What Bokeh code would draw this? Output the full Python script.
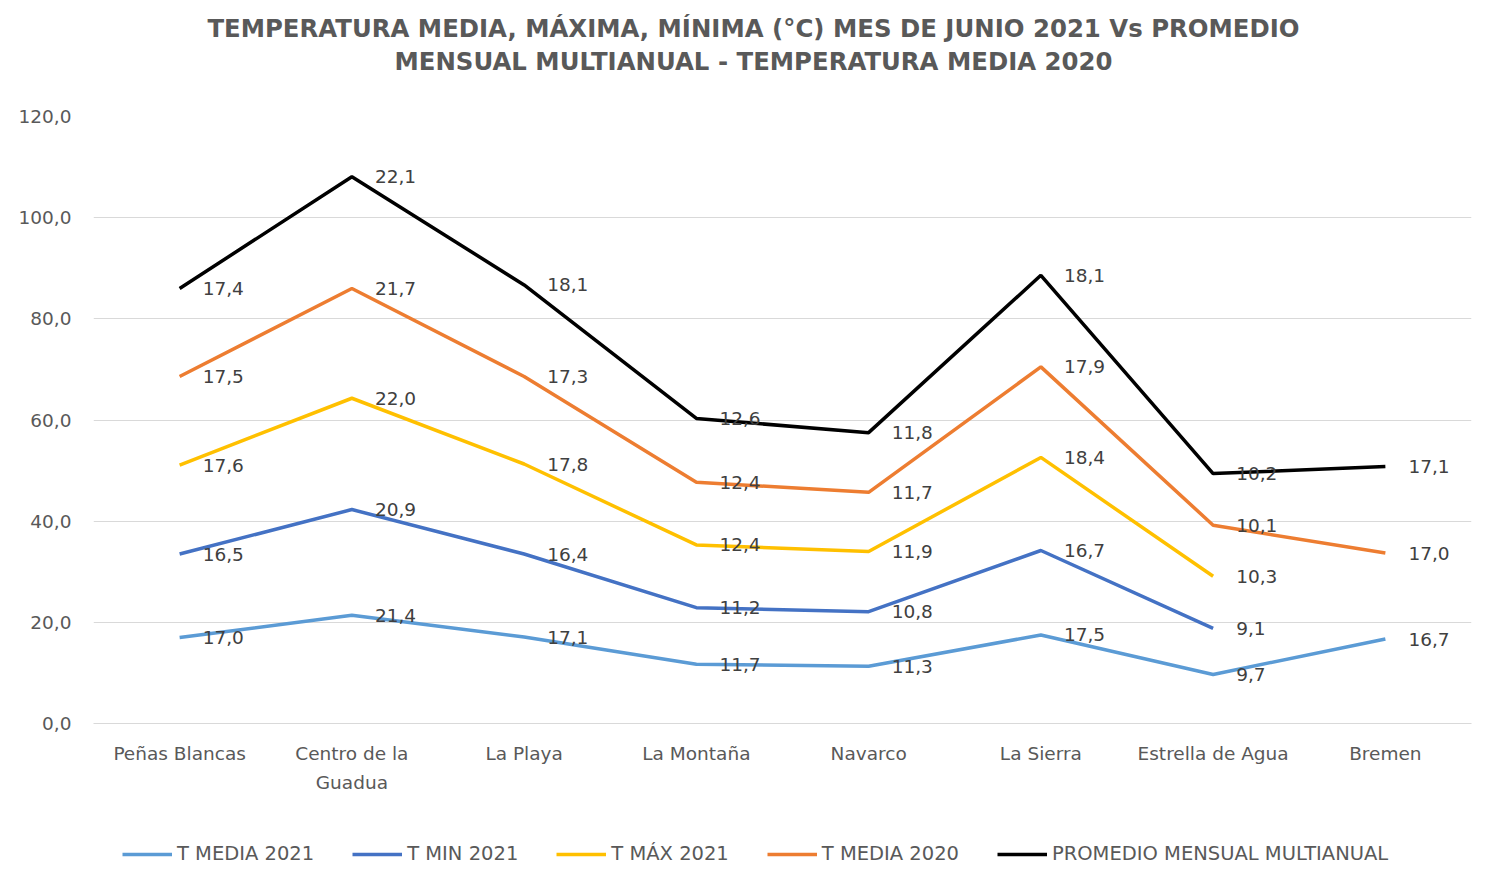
from bokeh.plotting import figure
from bokeh.layouts import column
from bokeh.models import Legend, LegendItem, FixedTicker, Range1d, FactorRange, ColumnDataSource, Div
from bokeh.embed import file_html
from bokeh.resources import INLINE
from bokeh.core.properties import value

stations = ["Peñas Blancas", "Centro de la\nGuadua", "La Playa", "La Montaña", "Navarco",
            "La Sierra", "Estrella de Agua", "Bremen"]
t_media_2021 = [17.0, 21.4, 17.1, 11.7, 11.3, 17.5, 9.7, 16.7]
t_min_2021 = [16.5, 20.9, 16.4, 11.2, 10.8, 16.7, 9.1, None]
t_max_2021 = [17.6, 22.0, 17.8, 12.4, 11.9, 18.4, 10.3, None]
t_media_2020 = [17.5, 21.7, 17.3, 12.4, 11.7, 17.9, 10.1, 17.0]
promedio = [17.4, 22.1, 18.1, 12.6, 11.8, 18.1, 10.2, 17.1]
series_names = ["T MEDIA 2021", "T MIN 2021", "T MÁX 2021", "T MEDIA 2020",
                "PROMEDIO MENSUAL MULTIANUAL"]
series_values = [t_media_2021, t_min_2021, t_max_2021, t_media_2020, promedio]
colors = ["#5B9BD5", "#4472C4", "#FFC000", "#ED7D31", "#000000"]
y_ticks = [0, 20, 40, 60, 80, 100, 120]
title_lines = ["TEMPERATURA MEDIA, MÁXIMA, MÍNIMA (°C) MES DE JUNIO 2021 Vs PROMEDIO",
               "MENSUAL MULTIANUAL - TEMPERATURA MEDIA 2020"]

FONT = "DejaVu Sans"
GRID = "#D9D9D9"
LINE_W = 3.5

title_div = Div(
    text=('<div style="font-family:\'DejaVu Sans\'; font-size:24.4px; font-weight:bold; '
          'color:#595959; line-height:33px; text-align:center; white-space:nowrap; '
          'box-sizing:border-box; width:1472px; padding-left:35px; padding-top:12px;">'
          + "<br>".join(title_lines) + '</div>'),
    width=1472, height=100, margin=(0, 0, 0, 0))

p = figure(width=1472, height=708, output_backend="svg", toolbar_location=None,
           x_range=FactorRange(*stations, range_padding=0), y_range=Range1d(0, 120),
           min_border_left=93, min_border_right=1, min_border_top=16, min_border_bottom=85,
           margin=(0, 0, 0, 0))
p.outline_line_color = None
p.xgrid.grid_line_color = None
p.ygrid.grid_line_color = GRID
p.ygrid.grid_line_width = 1

p.yaxis.ticker = FixedTicker(ticks=y_ticks)
p.yaxis.major_label_overrides = {t: f"{t:.1f}".replace(".", ",") for t in y_ticks}
p.yaxis.axis_line_color = None
p.yaxis.major_tick_line_color = None
p.yaxis.minor_tick_line_color = None
p.yaxis.major_label_standoff = 16
p.yaxis.major_label_text_font = FONT
p.yaxis.major_label_text_font_size = "18.5px"
p.yaxis.major_label_text_color = "#595959"

p.xaxis.axis_line_color = GRID
p.xaxis.major_tick_line_color = None
p.xaxis.minor_tick_line_color = None
p.xaxis.major_label_standoff = 13
p.xaxis.major_label_text_font = FONT
p.xaxis.major_label_text_font_size = "18.5px"
p.xaxis.major_label_text_color = "#595959"
p.xaxis.major_label_text_line_height = 1.4

# legend strip: a small figure below the chart; its frame aligns with the chart's frame
pl = figure(width=1472, height=63, output_backend="svg", toolbar_location=None,
            x_range=FactorRange(*stations, range_padding=0), y_range=Range1d(-2, -1),
            x_axis_location=None, y_axis_location=None,
            min_border_left=93, min_border_right=1, min_border_top=0, min_border_bottom=0,
            margin=(0, 0, 0, 0))
pl.outline_line_color = None
pl.grid.grid_line_color = None

cum = [0.0] * len(stations)
items = []
for name, vals, col in zip(series_names, series_values, colors):
    ys = []
    lx, ly, lt = [], [], []
    for i, v in enumerate(vals):
        if v is None:
            ys.append(float("nan"))
        else:
            cum[i] += v
            ys.append(cum[i])
            lx.append(stations[i]); ly.append(cum[i]); lt.append(f"{v:.1f}".replace(".", ","))
    p.line(stations, ys, line_color=col, line_width=LINE_W)
    src = ColumnDataSource(dict(x=lx, y=ly, t=lt))
    p.text(x="x", y="y", text="t", source=src, x_offset=23, text_align="left",
           text_baseline="middle", text_font=value(FONT), text_font_size="18.5px",
           text_color="#404040")
    # same series in the legend strip (outside its visible range): only used for the key
    rl = pl.line(stations, ys, line_color=col, line_width=LINE_W)
    items.append(LegendItem(label=name, renderers=[rl]))

legend = Legend(items=items, orientation="horizontal", location=(29, 6),
                glyph_width=50, glyph_height=20, label_standoff=5, spacing=38,
                padding=0, margin=0, border_line_color=None, background_fill_alpha=0,
                label_text_font=FONT, label_text_font_size="19.5px",
                label_text_color="#595959")
pl.add_layout(legend, "center")

layout = column(title_div, p, pl, spacing=0)
open("out.html", "w").write(file_html(layout, INLINE))
